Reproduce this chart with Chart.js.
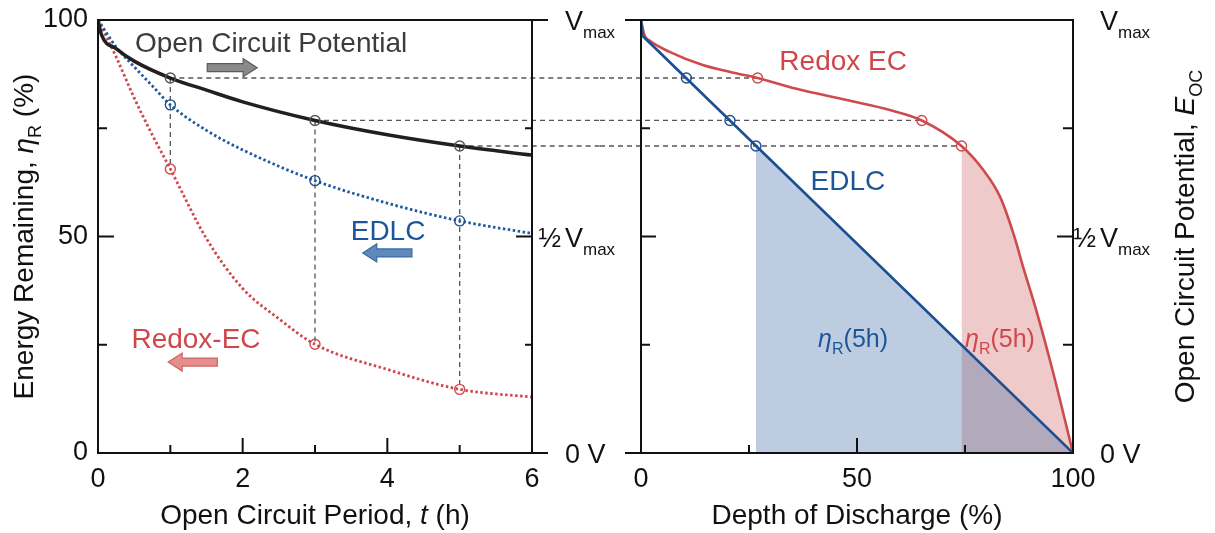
<!DOCTYPE html>
<html>
<head>
<meta charset="utf-8">
<script src="https://cdn.jsdelivr.net/npm/chart.js@4.4.1/dist/chart.umd.min.js"></script>
<style>
  html, body { margin: 0; background: #fff; }
  #wrap { position: relative; width: 1215px; height: 533px; }
  #leftBox { position: absolute; left: 0; top: 0; width: 640px; height: 533px; }
  #rightBox { position: absolute; left: 560px; top: 0; width: 655px; height: 533px; }
</style>
</head>
<body>
<div id="wrap">
  <div id="leftBox"><canvas id="left" width="640" height="533"></canvas></div>
  <div id="rightBox"><canvas id="right" width="655" height="533"></canvas></div>
</div>
<script>
// ---- left panel: energy remaining vs open circuit period ----
const ocpT = [0, 0.05, 0.25, 0.5, 1, 1.5, 2, 3, 4, 5, 6];
const ocpPct = [100, 96.5, 93.4, 90.5, 86.6, 83.8, 81.1, 76.8, 73.5, 70.9, 68.8];
const edlcT = [0, 0.25, 0.5, 0.75, 1, 1.5, 2, 3, 4, 5, 6];
const edlcPct = [100, 93.8, 89.2, 84.8, 80.4, 74.5, 70, 62.9, 57.7, 53.6, 50.7];
const redoxT = [0, 0.25, 0.5, 0.75, 1, 1.5, 2, 2.5, 3, 4, 5, 6];
const redoxPct = [100, 91.5, 82, 73.5, 65.6, 49.5, 38, 31, 25.1, 19.3, 14.7, 12.9];

const markT = [1, 3, 5];
const ocpMark = [86.6, 76.8, 70.9];
const edlcMark = [80.4, 62.9, 53.6];
const redoxMark = [65.6, 25.1, 14.7];

// ---- right panel: open circuit potential vs depth of discharge ----
const edlcDod = [0, 0.4, 100];
const edlcV = [100, 96.3, 0];
const redoxDod = [0, 0.8, 1.9, 6.5, 14.3, 22, 27, 36, 47.6, 57.6, 65, 74.2, 79.2, 83.1, 86.2, 88.5, 91.6, 95.4, 100];
const redoxV = [100, 96.5, 95.3, 92.7, 89.6, 87.7, 86.6, 84.1, 81.5, 79.2, 76.8, 70.9, 65.4, 59.2, 50.7, 42.8, 32.6, 18.6, 0];
const edlcMarkDod = [10.5, 20.6, 26.6];
const redoxMarkDod = [27, 65, 74.2];
const fillStart = 11; // index of the 5 h point in redoxDod

const FONT = '"Liberation Sans", Arial, Helvetica, sans-serif';
const BLUE = '#1b4f92';
const RED = '#cf4a4d';
const DARK = '#231f20';

const pts = (xs, ys) => xs.map((v, i) => ({ x: v, y: ys[i] }));

// text with italic / subscript runs: parts = [[text, flag]], flag 'i' or 'sub'
function drawRich(ctx, parts, x, y, size, color, align) {
  ctx.save();
  ctx.fillStyle = color;
  ctx.textBaseline = 'alphabetic';
  ctx.textAlign = 'left';
  const fontOf = p => (p[1] === 'i' ? 'italic ' : '') + Math.round(p[1] === 'sub' ? size * 0.63 : size) + 'px ' + FONT;
  let total = 0;
  const ws = parts.map(p => { ctx.font = fontOf(p); const w = ctx.measureText(p[0]).width; total += w; return w; });
  let cx = align === 'center' ? x - total / 2 : align === 'right' ? x - total : x;
  parts.forEach((p, k) => {
    ctx.font = fontOf(p);
    ctx.fillText(p[0], cx, y + (p[1] === 'sub' ? size * 0.3 : 0));
    cx += ws[k];
  });
  ctx.restore();
}

function arrow(ctx, x0, x1, yc, fill, stroke) {
  // x0 = tail, x1 = tip
  const dir = Math.sign(x1 - x0), head = 14 * dir;
  ctx.save();
  ctx.beginPath();
  ctx.moveTo(x0, yc - 4);
  ctx.lineTo(x1 - head, yc - 4);
  ctx.lineTo(x1 - head, yc - 9);
  ctx.lineTo(x1, yc);
  ctx.lineTo(x1 - head, yc + 9);
  ctx.lineTo(x1 - head, yc + 4);
  ctx.lineTo(x0, yc + 4);
  ctx.closePath();
  ctx.fillStyle = fill; ctx.fill();
  ctx.strokeStyle = stroke; ctx.lineWidth = 1.2; ctx.stroke();
  ctx.restore();
}

// frame + inward / outward ticks
function drawFrame(chart, spec) {
  const { ctx, chartArea: a, scales: { x, y } } = chart;
  ctx.save();
  ctx.strokeStyle = '#111';
  ctx.lineWidth = 2;
  ctx.strokeRect(a.left, a.top, a.right - a.left, a.bottom - a.top);
  ctx.beginPath();
  spec.bottom.forEach(([v, len]) => { const px = x.getPixelForValue(v); ctx.moveTo(px, a.bottom); ctx.lineTo(px, a.bottom - len); });
  spec.left.forEach(([v, len]) => { const py = y.getPixelForValue(v); ctx.moveTo(a.left, py); ctx.lineTo(a.left + len, py); });
  spec.right.forEach(([v, len]) => { const py = y.getPixelForValue(v); ctx.moveTo(a.right, py); ctx.lineTo(a.right - len, py); });
  ctx.stroke();
  ctx.restore();
}

function vLabels(ctx, y, xV, xHalf, color) {
  const base = 27;
  drawRich(ctx, [['V'], ['max', 'sub']], xV, y.getPixelForValue(100) + 10, base, color, 'left');
  drawRich(ctx, [['½']], xHalf, y.getPixelForValue(50) + 10, base, color, 'right');
  drawRich(ctx, [['V'], ['max', 'sub']], xV, y.getPixelForValue(50) + 10, base, color, 'left');
  drawRich(ctx, [['0 V']], xV, y.getPixelForValue(0) + 10, base, color, 'left');
}

const noPad = s => { s.paddingTop = 0; s.paddingBottom = 0; s.paddingLeft = 0; s.paddingRight = 0; };

const commonScales = (xmin, xmax, step, yw, showY) => ({
  x: {
    type: 'linear', min: xmin, max: xmax,
    grid: { display: false, drawTicks: false }, border: { display: false },
    ticks: { stepSize: step, padding: 10, color: '#111', font: { family: FONT, size: 27 }, maxRotation: 0 },
    afterFit: s => { s.height = 80; noPad(s); }
  },
  y: {
    type: 'linear', min: 0, max: 100,
    grid: { display: false, drawTicks: false }, border: { display: false },
    ticks: { stepSize: 50, padding: 10, color: '#111', font: { family: FONT, size: 27 }, display: showY },
    afterFit: s => { s.width = yw; noPad(s); }
  }
});

const baseOpts = {
  responsive: false, animation: false, devicePixelRatio: 1, events: [],
  plugins: { legend: { display: false }, tooltip: { enabled: false } }
};

const ring = color => ({
  showLine: false, pointRadius: 5, pointBorderWidth: 1.4,
  pointBackgroundColor: 'rgba(0,0,0,0)', pointBorderColor: color, order: -1
});

// ---------------- left chart ----------------
const leftPlugin = {
  id: 'leftDecor',
  beforeDatasetsDraw(chart) {
    const { ctx, scales: { x, y } } = chart;
    ctx.save();
    ctx.strokeStyle = '#555'; ctx.lineWidth = 1.3; ctx.setLineDash([5, 4]);
    markT.forEach((t, i) => {
      const px = x.getPixelForValue(t), py = y.getPixelForValue(ocpMark[i]);
      ctx.beginPath();
      ctx.moveTo(px, py); ctx.lineTo(600, py);
      ctx.moveTo(px, py); ctx.lineTo(px, y.getPixelForValue(redoxMark[i]));
      ctx.stroke();
    });
    ctx.restore();
  },
  afterDraw(chart) {
    const { ctx, chartArea: a, scales: { x, y } } = chart;
    drawFrame(chart, {
      bottom: [[0, 15], [2, 15], [4, 15], [6, 15], [1, 8], [3, 8], [5, 8]],
      left: [[0, 16], [50, 16], [100, 16], [25, 9], [75, 9]],
      right: [[50, 16], [25, 7], [75, 7], [0, -16], [100, -16]]
    });
    // annotations
    drawRich(ctx, [['Open Circuit Potential']], x.getPixelForValue(0.51), y.getPixelForValue(92.6), 28, '#3c3c3c', 'left');
    arrow(ctx, x.getPixelForValue(1.51), x.getPixelForValue(2.2), y.getPixelForValue(89), '#8a8a8a', '#5a5a5a');
    drawRich(ctx, [['EDLC']], x.getPixelForValue(4.01), y.getPixelForValue(49.2), 28, '#1d5599', 'center');
    arrow(ctx, x.getPixelForValue(4.34), x.getPixelForValue(3.66), y.getPixelForValue(46.2), '#5d89bd', '#3c6aa2');
    drawRich(ctx, [['Redox-EC']], x.getPixelForValue(1.355), y.getPixelForValue(24.25), 28, '#d0474b', 'center');
    arrow(ctx, x.getPixelForValue(1.65), x.getPixelForValue(0.97), y.getPixelForValue(21), '#e58e8e', '#d06464');
    // axis titles
    drawRich(ctx, [['Open Circuit Period, '], ['t', 'i'], [' (h)']], (a.left + a.right) / 2, 524, 28, '#111', 'center');
    ctx.save();
    ctx.translate(33, (a.top + a.bottom) / 2);
    ctx.rotate(-Math.PI / 2);
    drawRich(ctx, [['Energy Remaining, '], ['η', 'i'], ['R', 'sub'], [' (%)']], 0, 0, 28, '#111', 'center');
    ctx.restore();
    vLabels(ctx, y, a.right + 33, a.right + 29, '#111');
  }
};

new Chart(document.getElementById('left'), {
  type: 'line',
  data: {
    datasets: [
      Object.assign({ data: pts(markT, ocpMark) }, ring('#555')),
      Object.assign({ data: pts(markT, edlcMark) }, ring(BLUE)),
      Object.assign({ data: pts(markT, redoxMark) }, ring(RED)),
      { data: pts(ocpT, ocpPct), borderColor: DARK, borderWidth: 3.5, pointRadius: 0, cubicInterpolationMode: 'monotone' },
      { data: pts(edlcT, edlcPct), borderColor: '#1d5aa0', borderWidth: 2.8, borderDash: [2.5, 2.5], pointRadius: 0, cubicInterpolationMode: 'monotone' },
      { data: pts(redoxT, redoxPct), borderColor: '#d2474b', borderWidth: 2.8, borderDash: [2.5, 2.5], pointRadius: 0, cubicInterpolationMode: 'monotone' }
    ]
  },
  options: Object.assign({}, baseOpts, {
    layout: { padding: { top: 20, right: 108, left: 0, bottom: 0 } },
    scales: commonScales(0, 6, 2, 98, true)
  }),
  plugins: [leftPlugin]
});

// ---------------- right chart ----------------
const rightPlugin = {
  id: 'rightDecor',
  beforeDatasetsDraw(chart) {
    const { ctx, scales: { x, y } } = chart;
    ctx.save();
    ctx.strokeStyle = '#555'; ctx.lineWidth = 1.3; ctx.setLineDash([5, 4]);
    redoxMarkDod.forEach((d, i) => {
      const py = y.getPixelForValue(ocpMark[i]);
      ctx.beginPath();
      ctx.moveTo(40, py); ctx.lineTo(x.getPixelForValue(d), py);
      ctx.stroke();
    });
    ctx.restore();
  },
  afterDraw(chart) {
    const { ctx, chartArea: a, scales: { x, y } } = chart;
    drawFrame(chart, {
      bottom: [[0, 15], [50, 15], [100, 15], [25, 8], [75, 8]],
      left: [[50, 15], [25, 9], [75, 9], [0, -16], [100, -16]],
      right: [[50, 16], [25, 10], [75, 10]]
    });
    drawRich(ctx, [['Redox EC']], x.getPixelForValue(46.8), y.getPixelForValue(88.5), 28, '#d0474b', 'center');
    drawRich(ctx, [['EDLC']], x.getPixelForValue(47.9), y.getPixelForValue(60.7), 28, '#1d5599', 'center');
    drawRich(ctx, [['η', 'i'], ['R', 'sub'], ['(5h)']], x.getPixelForValue(41), y.getPixelForValue(24.5), 25, '#1d5599', 'left');
    drawRich(ctx, [['η', 'i'], ['R', 'sub'], ['(5h)']], x.getPixelForValue(75), y.getPixelForValue(24.5), 25, '#d0474b', 'left');
    drawRich(ctx, [['Depth of Discharge (%)']], (a.left + a.right) / 2, 524, 28, '#111', 'center');
    ctx.save();
    ctx.translate(634, (a.top + a.bottom) / 2);
    ctx.rotate(-Math.PI / 2);
    drawRich(ctx, [['Open Circuit Potential, '], ['E', 'i'], ['OC', 'sub']], 0, 0, 28, '#111', 'center');
    ctx.restore();
    vLabels(ctx, y, a.right + 27, a.right + 23, '#111');
  }
};

new Chart(document.getElementById('right'), {
  type: 'line',
  data: {
    datasets: [
      Object.assign({ data: pts(edlcMarkDod, ocpMark) }, ring(BLUE)),
      Object.assign({ data: pts(redoxMarkDod, ocpMark) }, ring(RED)),
      { data: pts(edlcDod, edlcV), borderColor: BLUE, borderWidth: 2.6, pointRadius: 0, tension: 0, order: 0 },
      { data: pts(redoxDod, redoxV), borderColor: RED, borderWidth: 2.6, pointRadius: 0, cubicInterpolationMode: 'monotone', order: 0 },
      { data: [{ x: edlcMarkDod[2], y: ocpMark[2] }, { x: 100, y: 0 }], fill: 'origin',
        backgroundColor: 'rgba(65,108,167,0.35)', borderWidth: 0, borderColor: 'rgba(0,0,0,0)', pointRadius: 0, order: 2 },
      { data: pts(redoxDod.slice(fillStart), redoxV.slice(fillStart)), fill: 'origin',
        backgroundColor: '#eecaca', borderWidth: 0, borderColor: 'rgba(0,0,0,0)', pointRadius: 0,
        cubicInterpolationMode: 'monotone', order: 3 }
    ]
  },
  options: Object.assign({}, baseOpts, {
    layout: { padding: { top: 20, right: 142, left: 0, bottom: 0 } },
    scales: commonScales(0, 100, 50, 81, false)
  }),
  plugins: [rightPlugin]
});
</script>
</body>
</html>
